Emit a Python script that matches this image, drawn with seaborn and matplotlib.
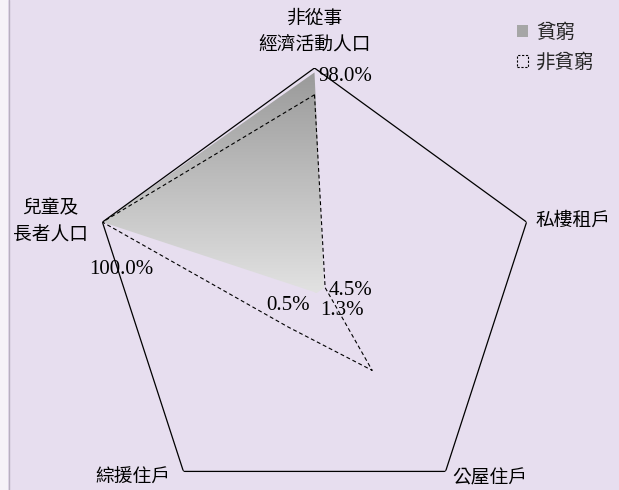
import numpy as np
import matplotlib
matplotlib.use('Agg')
import matplotlib.pyplot as plt
import seaborn as sns
from matplotlib.patches import Patch, Rectangle
from matplotlib.colors import LinearSegmentedColormap

# ---- data ----
categories = ['非從事\n經濟活動人口', '私樓租戶', '公屋住戶', '綜援住戶', '兒童及\n長者人口']
poverty = [98.0, 4.5, 1.3, 0.5, 100.0]
non_poverty = [88.0, 5.0, 44.0, 20.0, 100.0]
poverty_labels = ['98.0%', '4.5%', '1.3%', '0.5%', '100.0%']
series_names = ['貧窮', '非貧窮']

# ---- style ----
sns.set_theme(style='white')
plt.rcParams['font.family'] = ['Noto Sans CJK TC', 'DejaVu Sans']
num_font = ['Liberation Serif', 'DejaVu Serif']

W, H = 619, 490
fig = plt.figure(figsize=(W / 100, H / 100), dpi=100)
bg = '#E7DEEF'
fig.patch.set_facecolor(bg)
# left border strip
fig.add_artist(Rectangle((0, 0), 8 / W, 1, transform=fig.transFigure,
                         facecolor='#F6F3F8', edgecolor='none', zorder=0))
fig.add_artist(plt.Line2D([8.5 / W, 8.5 / W], [0, 1], transform=fig.transFigure,
                          color='#B8B0C0', lw=1))

cx, cy, R = 314.5, 291, 223
ax = fig.add_axes([(cx - R) / W, (H - cy - R) / H, 2 * R / W, 2 * R / H],
                  projection='polar')
ax.set_theta_zero_location('N')
ax.set_theta_direction(-1)
ax.set_facecolor('none')
ax.grid(False)
ax.spines['polar'].set_visible(False)

n = len(categories)
theta = np.arange(n) * 2 * np.pi / n
theta_c = np.append(theta, theta[0])
pov_c = np.append(poverty, poverty[0])
non_c = np.append(non_poverty, non_poverty[0])

# outer frame (100%)
ax.plot(theta_c, np.full(n + 1, 100.0), color='black', lw=0.9, zorder=3)

# poverty polygon (used as clip for gradient)
poly, = ax.fill(theta_c, pov_c, facecolor='none', edgecolor='none', zorder=2)

# non-poverty dashed outline
sns.lineplot(x=theta_c, y=non_c, sort=False, estimator=None, ax=ax,
             color='black', lw=0.8, linestyle=(0, (3.5, 2.5)), zorder=4)

ax.set_ylim(0, 100)
ax.set_xticks([])
ax.set_yticks([])
ax.set_xlabel('')
ax.set_ylabel('')

# data labels for poverty series
lab_off = [(4, -4, 'left'), (5, -3, 'left'), (4, -17, 'left'), (-4, -14, 'right'), (-13, -47, 'left')]
for t, v, s, (dx, dy, ha) in zip(theta, poverty, poverty_labels, lab_off):
    ax.annotate(s, xy=(t, v), xytext=(dx, dy), textcoords='offset pixels',
                ha=ha, va='center', fontsize=15, family=num_font, color='black',
                annotation_clip=False, zorder=6)

# category labels
cat_off = [(0, 36, 'center'), (9, 2, 'left'), (7, -7, 'left'), (-13, -6, 'right'), (-52, 1, 'center')]
for t, c, (dx, dy, ha) in zip(theta, categories, cat_off):
    ax.annotate(c, xy=(t, 100), xytext=(dx, dy), textcoords='offset pixels',
                ha=ha, va='center', multialignment='center', fontsize=13.5,
                linespacing=1.35, color='black', annotation_clip=False)

# gradient fill clipped to poverty polygon
ax_bg = fig.add_axes([0, 0, 1, 1])
ax_bg.set_axis_off()
ax_bg.set_zorder(0)
ax.set_zorder(1)
fig.canvas.draw()
bb = poly.get_window_extent()
grad = np.linspace(0, 1, 256).reshape(-1, 1)
cmap = LinearSegmentedColormap.from_list('g', ['#9a9a9a', '#e2e2e2'])
im = ax_bg.imshow(grad, cmap=cmap, aspect='auto', origin='upper',
                  extent=[0, 1, bb.y0 / H, bb.y1 / H])
ax_bg.set_xlim(0, 1)
ax_bg.set_ylim(0, 1)
im.set_clip_path(poly)

# legend
handles = [Patch(facecolor='#a6a6a6', edgecolor='none'),
           Patch(facecolor='none', edgecolor='black', linestyle=(0, (2, 1.5)), lw=0.8)]
fig.legend(handles, series_names, loc='upper left', bbox_to_anchor=(517 / W, 1 - 22 / H),
           frameon=False, fontsize=14, handlelength=0.55, handleheight=0.55,
           handletextpad=0.45, labelspacing=0.45, borderpad=0, borderaxespad=0)

fig.savefig('out.png', dpi=100, facecolor=bg)
